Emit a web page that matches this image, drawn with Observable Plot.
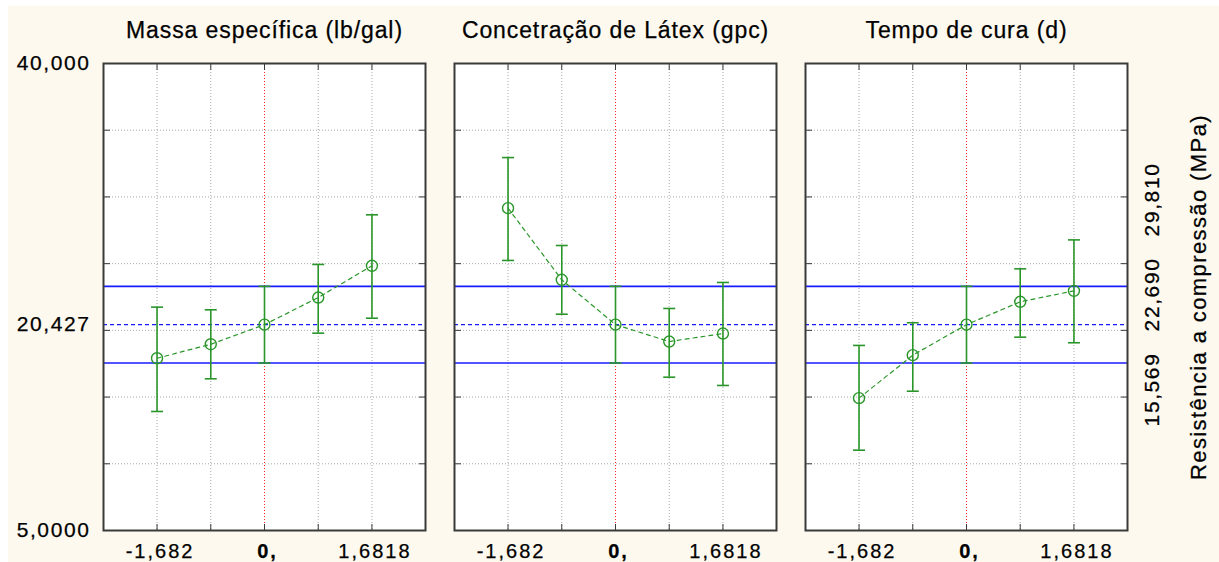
<!DOCTYPE html>
<html><head><meta charset="utf-8">
<script src="https://cdn.jsdelivr.net/npm/d3@7"></script>
<script src="https://cdn.jsdelivr.net/npm/@observablehq/plot@0.6"></script>
<style>
body{margin:0;background:#fff;}
#wrap{position:absolute;left:8px;top:6px;width:1211px;height:556px;background:#fdf9ef;}
svg{overflow:visible;}
svg text{font-family:"Liberation Sans",Arial,sans-serif;stroke:#000;stroke-width:0.25px;}
g[aria-label="fx-axis tick label"] text{letter-spacing:0.9px;}
g[aria-label="y-axis tick label"] text{letter-spacing:1.6px;}
g[aria-label="x-axis tick label"] text{letter-spacing:2px;}
g[aria-label="y-axis label"] text{letter-spacing:1.4px;}
</style></head><body><div id="wrap"></div>
<script>
const factors = ["Massa específica (lb/gal)", "Concetração de Látex (gpc)", "Tempo de cura (d)"];
const levels = [-1.682, -0.841, 0, 0.841, 1.6818];
const massaMean = [17.91, 18.96, 20.427, 22.46, 24.84];
const massaLow  = [13.92, 16.37, 17.55, 19.79, 20.91];
const massaHigh = [21.74, 21.54, 23.30, 24.94, 28.66];
const latexMean = [29.16, 23.79, 20.427, 19.16, 19.76];
const latexLow  = [25.24, 21.21, 17.55, 16.49, 15.87];
const latexHigh = [32.95, 26.36, 23.30, 21.64, 23.59];
const curaMean  = [14.92, 18.14, 20.427, 22.14, 22.96];
const curaLow   = [11.02, 15.44, 17.55, 19.49, 19.07];
const curaHigh  = [18.87, 20.57, 23.30, 24.61, 26.78];
const refBand = [17.55, 23.30];
const refMean = 20.427;
const yGrid = [10, 15, 20, 25, 30, 35];
const yTickValues = [5, 20.427, 40];
const yTickLabels = ["5,0000", "20,427", "40,000"];
const xTickValues = [-1.682, 1.6818];
const xTickLabels = ["-1,682", "1,6818"];
const xZeroLabel = "0,";
const rightValues = [15.569, 22.69, 29.81];
const rightLabels = ["15,569", "22,690", "29,810"];
const yTitle = "Resistência a compressão (MPa)";

const series = [[massaMean, massaLow, massaHigh], [latexMean, latexLow, latexHigh], [curaMean, curaLow, curaHigh]];
const rows = [];
series.forEach(([m, l, h], i) => levels.forEach((lv, j) =>
  rows.push({factor: factors[i], level: lv, mean: m[j], low: l[j], high: h[j]})));

const cap = {draw(ctx, size) { const w = Math.sqrt(size / Math.PI); ctx.moveTo(-w, 0); ctx.lineTo(w, 0); }};
const green = "#2a962a";
const dark = "#3a3a3a";
const innerTicks = {tickFormat: () => "", label: null, facetAnchor: null, stroke: dark};

const plot = Plot.plot({
  width: 1211, height: 556,
  marginLeft: 95, marginRight: 91, marginTop: 57, marginBottom: 32,
  style: {background: "transparent", fontFamily: "Liberation Sans, Arial, sans-serif", color: "#000"},
  fx: {domain: factors, paddingInner: 0.0825, paddingOuter: 0, axis: null},
  x: {domain: [-2.52, 2.52], axis: null},
  y: {domain: [5, 40], axis: null},
  marks: [
    Plot.frame({fill: "white"}),
    Plot.gridY({ticks: yGrid, stroke: "#a8a8a8", strokeOpacity: 1, strokeDasharray: "1,2"}),
    Plot.gridX({ticks: levels.filter(v => v !== 0), stroke: "#a8a8a8", strokeOpacity: 1, strokeDasharray: "1,2"}),
    Plot.ruleX([0], {stroke: "#ff2020", strokeDasharray: "1,2"}),
    Plot.ruleY(refBand, {stroke: "#1a1aff", strokeWidth: 1.6}),
    Plot.ruleY([refMean], {stroke: "#1a1aff", strokeWidth: 1.4, strokeDasharray: "4,3"}),
    Plot.line(rows, {fx: "factor", x: "level", y: "mean", z: "factor", stroke: green, strokeWidth: 1.2, strokeDasharray: "4,4"}),
    Plot.ruleX(rows, {fx: "factor", x: "level", y1: "low", y2: "high", stroke: green, strokeWidth: 1.6}),
    Plot.dot(rows, {fx: "factor", x: "level", y: "low", symbol: cap, r: 6, stroke: green, strokeWidth: 1.6}),
    Plot.dot(rows, {fx: "factor", x: "level", y: "high", symbol: cap, r: 6, stroke: green, strokeWidth: 1.6}),
    Plot.dot(rows, {fx: "factor", x: "level", y: "mean", r: 5.5, stroke: green, strokeWidth: 1.4, fill: "none"}),
    Plot.axisY({anchor: "left", ticks: yGrid, tickSize: -7, ...innerTicks}),
    Plot.axisY({anchor: "right", ticks: yGrid, tickSize: -7, ...innerTicks}),
    Plot.axisX({anchor: "top", ticks: levels, tickSize: -6, ...innerTicks}),
    Plot.axisX({anchor: "bottom", ticks: levels, tickSize: -6, ...innerTicks}),
    Plot.frame({stroke: dark, strokeWidth: 2}),
    Plot.axisFx({anchor: "top", tickSize: 0, tickPadding: 26, fontSize: 23, label: null}),
    Plot.axisY({anchor: "left", ticks: yTickValues, tickFormat: d => yTickLabels[yTickValues.indexOf(d)], tickSize: 0, tickPadding: 13, fontSize: 21, label: null}),
    Plot.axisX({anchor: "bottom", ticks: xTickValues, tickFormat: d => xTickLabels[xTickValues.indexOf(d)], tickSize: 0, tickPadding: 13, fontSize: 20, dx: 3, label: null}),
    Plot.axisX({anchor: "bottom", ticks: [0], tickFormat: () => xZeroLabel, tickSize: 0, tickPadding: 13, fontSize: 20, fontWeight: "bold", dx: 3, label: null}),
    Plot.axisY({anchor: "right", ticks: rightValues, tickFormat: d => rightLabels[rightValues.indexOf(d)], tickSize: 0, tickPadding: 17, tickRotate: -90, lineAnchor: "top", fontSize: 21, label: null}),
    Plot.axisY({anchor: "right", ticks: [], tickSize: 0, label: yTitle, labelAnchor: "center", labelArrow: "none", labelOffset: 78, fontSize: 22})
  ]
});
document.getElementById("wrap").appendChild(plot);
</script></body></html>
